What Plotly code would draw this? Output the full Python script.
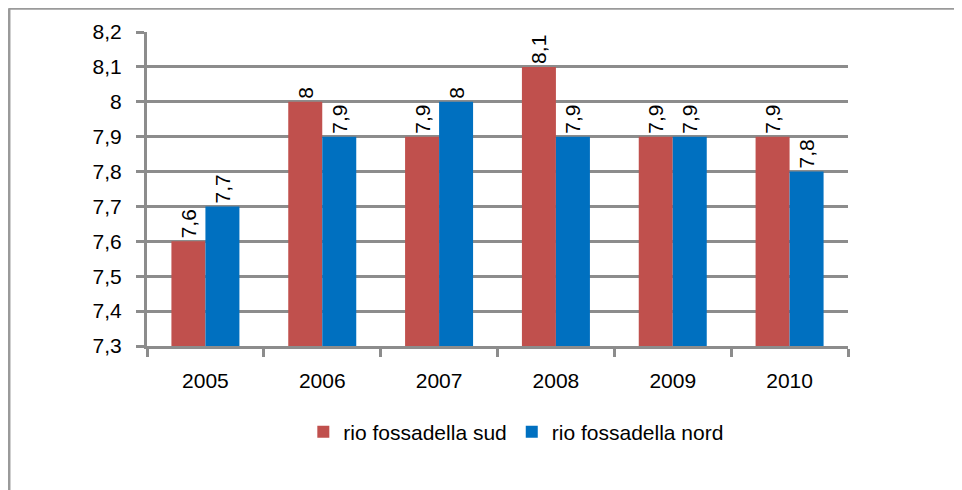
import plotly.graph_objects as go

years = ["2005", "2006", "2007", "2008", "2009", "2010"]
sud = [7.6, 8.0, 7.9, 8.1, 7.9, 7.9]
nord = [7.7, 7.9, 8.0, 7.9, 7.9, 7.8]
y_ticks = [7.3, 7.4, 7.5, 7.6, 7.7, 7.8, 7.9, 8.0, 8.1, 8.2]
y_tick_text = ["7,3", "7,4", "7,5", "7,6", "7,7", "7,8", "7,9", "8", "8,1", "8,2"]

RED = "#C0504D"
BLUE = "#0070C0"
GRID = "#8C8C8C"
FONT = "Liberation Sans"


def it_label(v):
    return f"{v:g}".replace(".", ",")


fig = go.Figure()
for name, vals, color in [
    ("rio fossadella sud", sud, RED),
    ("rio fossadella nord", nord, BLUE),
]:
    fig.add_trace(
        go.Bar(
            x=years,
            y=vals,
            name=name,
            marker_color=color,
            marker_line_width=0,
            text=[it_label(v) for v in vals],
            textposition="outside",
            textangle=-90,
            textfont=dict(family=FONT, size=21, color="black"),
            constraintext="none",
            cliponaxis=False,
        )
    )

# page has an 8px body margin; plot area on page: x 147..848, y 28..346
fig.update_layout(
    width=954,
    height=482,
    barmode="group",
    bargap=0.418,
    bargroupgap=0,
    paper_bgcolor="white",
    plot_bgcolor="white",
    font=dict(family=FONT, size=20, color="black"),
    margin=dict(l=139, r=114, t=20, b=144),
    showlegend=True,
    legend=dict(
        orientation="h",
        x=0.223,
        xanchor="left",
        y=-0.274,
        yanchor="middle",
        font=dict(family=FONT, size=21, color="black"),
        itemwidth=30,
        traceorder="normal",
    ),
    shapes=[
        dict(type="line", xref="paper", yref="paper",
             x0=-0.1969, x1=1.17, y0=1.0755, y1=1.0755,
             line=dict(color="#9A9A9A", width=3)),
        dict(type="line", xref="paper", yref="paper",
             x0=-0.1969, x1=-0.1969, y0=-0.46, y1=1.0755,
             line=dict(color="#9A9A9A", width=3)),
    ],
)
fig.update_yaxes(
    range=[7.3, 8.2],
    tickvals=y_ticks,
    ticktext=y_tick_text,
    tickfont=dict(size=21),
    ticklabelstandoff=10,
    showgrid=True,
    gridcolor=GRID,
    gridwidth=3,
    showline=True,
    linecolor=GRID,
    linewidth=3,
    ticks="outside",
    ticklen=8,
    tickwidth=3,
    tickcolor=GRID,
    zeroline=False,
)
fig.update_xaxes(
    showline=True,
    linecolor=GRID,
    linewidth=3,
    ticks="outside",
    tickson="boundaries",
    ticklen=8,
    tickwidth=3,
    tickcolor=GRID,
    tickfont=dict(size=21),
    ticklabelstandoff=14,
    showgrid=False,
)

fig.write_html("out.html")
